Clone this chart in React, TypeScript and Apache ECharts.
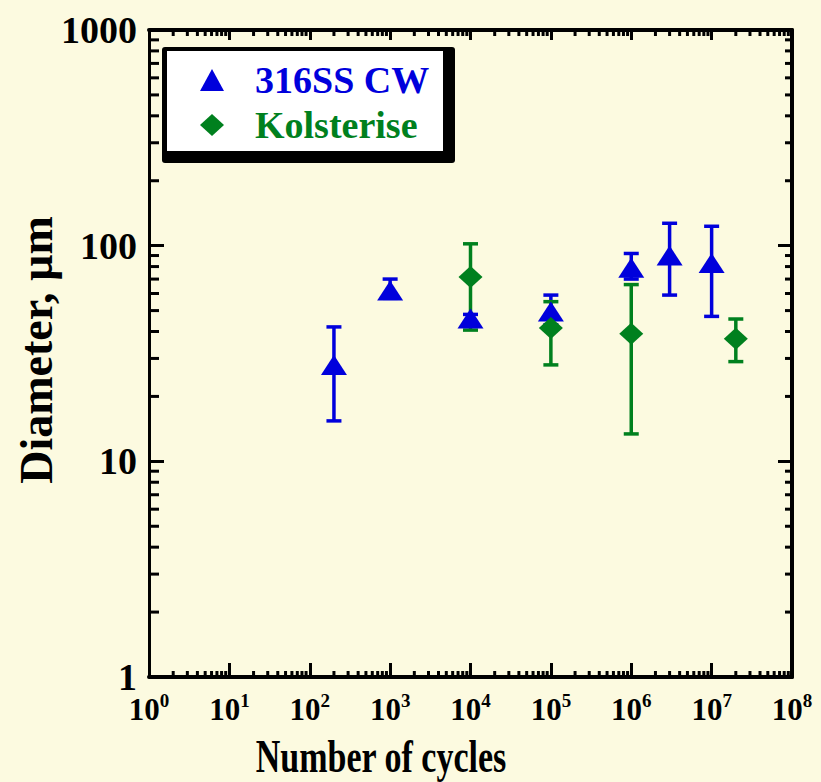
import React, { useEffect, useRef } from "react";
import * as echarts from "echarts";

// ---- data ----
const blueName = "316SS CW";
const blueX = [200, 1000, 10000, 100000, 1000000, 3000000, 10000000];
const blueY = [28, 62, 46, 49.5, 79, 90, 83];
const blueLow = [15.4, 57, 43, 43, 70, 59, 47];
const blueHigh = [42, 70, 48, 59, 92, 127, 123];

const greenName = "Kolsterise";
const greenX = [10000, 100000, 1000000, 20000000];
const greenY = [71.5, 41.5, 39, 37];
const greenLow = [40.6, 28, 13.4, 29];
const greenHigh = [102, 55, 66, 45.7];

// axis ranges and tick decades
const xDecades = [0, 1, 2, 3, 4, 5, 6, 7];
const yDecades = [0, 1, 2];
const minorMultipliers = [2, 3, 4, 5, 6, 7, 8, 9];

const BLUE = "#0000DC";
const GREEN = "#00801E";
const BG = "#FCFAE0";
const FONT = "'Liberation Serif', 'Times New Roman', serif";

const xMinor: number[] = [];
xDecades.forEach((d) => minorMultipliers.forEach((m) => xMinor.push(m * Math.pow(10, d))));
const yMinor: number[] = [];
yDecades.forEach((d) => minorMultipliers.forEach((m) => yMinor.push(m * Math.pow(10, d))));

const X_MIN = 1, X_MAX = 1e8, Y_MIN = 1, Y_MAX = 1000;

function errRender(color: string) {
  return (params: any, api: any) => {
    const x = api.value(0);
    const lo = api.value(1);
    const hi = api.value(2);
    const pLo = api.coord([x, lo]);
    const pHi = api.coord([x, hi]);
    const w = 7.5;
    const style = { stroke: color, lineWidth: 3.5, fill: "none" };
    return {
      type: "group",
      children: [
        { type: "line", shape: { x1: pLo[0], y1: pLo[1], x2: pHi[0], y2: pHi[1] }, style },
        { type: "line", shape: { x1: pLo[0] - w, y1: pLo[1], x2: pLo[0] + w, y2: pLo[1] }, style },
        { type: "line", shape: { x1: pHi[0] - w, y1: pHi[1], x2: pHi[0] + w, y2: pHi[1] }, style },
      ],
    };
  };
}

const tickStyle = { stroke: "#000", lineWidth: 3 };

function xMinorRender(params: any, api: any) {
  const v = api.value(0);
  const b = api.coord([v, Y_MIN]);
  const t = api.coord([v, Y_MAX]);
  return {
    type: "group",
    children: [
      { type: "line", shape: { x1: b[0], y1: b[1], x2: b[0], y2: b[1] - 6 }, style: tickStyle },
      { type: "line", shape: { x1: t[0], y1: t[1], x2: t[0], y2: t[1] + 6 }, style: tickStyle },
    ],
  };
}

function yMinorRender(params: any, api: any) {
  const v = api.value(1);
  const l = api.coord([X_MIN, v]);
  const r = api.coord([X_MAX, v]);
  return {
    type: "group",
    children: [
      { type: "line", shape: { x1: l[0], y1: l[1], x2: l[0] + 10, y2: l[1] }, style: tickStyle },
      { type: "line", shape: { x1: r[0], y1: r[1], x2: r[0] - 7, y2: r[1] }, style: tickStyle },
    ],
  };
}

export default function App() {
  const ref = useRef<HTMLDivElement>(null);
  useEffect(() => {
    if (!ref.current) return;
    const chart = echarts.init(ref.current, undefined, { renderer: "svg" });
    const axisLineStyle = { color: "#000", width: 4 };
    const option: any = {
      animation: false,
      backgroundColor: BG,
      grid: { left: 149, top: 30, right: 29, bottom: 105, containLabel: false },
      xAxis: [
        {
          type: "log",
          logBase: 10,
          min: X_MIN,
          max: X_MAX,
          splitNumber: 8,
          position: "bottom",
          axisLine: { lineStyle: axisLineStyle },
          axisTick: { inside: true, length: 14, lineStyle: { color: "#000", width: 3 } },
          splitLine: { show: false },
          axisLabel: {
            interval: 0,
            margin: 14,
            showMinLabel: true,
            showMaxLabel: true,
            formatter: (v: number) => `{b|10}{e|${Math.round(Math.log10(v))}}`,
            rich: {
              b: { fontFamily: FONT, fontWeight: "bold", fontSize: 31, color: "#000" },
              e: { fontFamily: FONT, fontWeight: "bold", fontSize: 19, color: "#000", padding: [0, 0, 18, 0] },
            },
          },
        },
        {
          type: "log",
          logBase: 10,
          min: X_MIN,
          max: X_MAX,
          splitNumber: 8,
          position: "top",
          axisLine: { lineStyle: axisLineStyle },
          axisTick: { inside: true, length: 10, lineStyle: { color: "#000", width: 3 } },
          axisLabel: { show: false },
          splitLine: { show: false },
        },
      ],
      yAxis: [
        {
          type: "log",
          logBase: 10,
          min: Y_MIN,
          max: Y_MAX,
          splitNumber: 3,
          position: "left",
          axisLine: { lineStyle: { color: "#000", width: 3 } },
          axisTick: { inside: true, length: 15, lineStyle: { color: "#000", width: 3 } },
          splitLine: { show: false },
          axisLabel: {
            margin: 12,
            showMinLabel: true,
            showMaxLabel: true,
            formatter: (v: number) => String(Math.round(v)),
            fontFamily: FONT,
            fontWeight: "bold",
            fontSize: 38,
            color: "#000",
          },
        },
        {
          type: "log",
          logBase: 10,
          min: Y_MIN,
          max: Y_MAX,
          splitNumber: 3,
          position: "right",
          axisLine: { lineStyle: axisLineStyle },
          axisTick: { inside: true, length: 14, lineStyle: { color: "#000", width: 3 } },
          axisLabel: { show: false },
          splitLine: { show: false },
        },
      ],
      legend: {
        orient: "vertical",
        left: 200,
        top: 61,
        padding: 0,
        itemWidth: 24,
        itemHeight: 22,
        itemGap: 7,
        selectedMode: false,
        textStyle: {
          fontFamily: FONT,
          fontWeight: "bold",
          fontSize: 38,
          lineHeight: 38,
          padding: [0, 0, 0, 26],
        },
        data: [
          { name: blueName, icon: "triangle", itemStyle: { color: BLUE }, textStyle: { color: BLUE } },
          { name: greenName, icon: "diamond", itemStyle: { color: GREEN }, textStyle: { color: GREEN } },
        ],
      },
      graphic: [
        { type: "rect", z: 1, shape: { x: 162, y: 47, width: 293, height: 116, r: 3 }, style: { fill: "#000" } },
        { type: "rect", z: 1, shape: { x: 167, y: 51, width: 276, height: 100 }, style: { fill: "#FFFFFF" } },
        {
          type: "text",
          z: 5,
          x: 381,
          y: 757,
          scaleY: 1.35,
          style: {
            text: "Number of cycles",
            fontFamily: FONT,
            fontWeight: "bold",
            fontSize: 34,
            fill: "#000",
            align: "center",
            verticalAlign: "middle",
          },
        },
        {
          type: "text",
          z: 5,
          x: 36,
          y: 350,
          rotation: Math.PI / 2,
          style: {
            text: "Diameter, µm",
            fontFamily: FONT,
            fontWeight: "bold",
            fontSize: 46,
            fill: "#000",
            align: "center",
            verticalAlign: "middle",
          },
        },
      ],
      series: [
        {
          name: "xminor",
          type: "custom",
          silent: true,
          xAxisIndex: 0,
          yAxisIndex: 0,
          renderItem: xMinorRender,
          data: xMinor.map((v) => [v, Y_MIN]),
          encode: { x: 0, y: 1 },
        },
        {
          name: "yminor",
          type: "custom",
          silent: true,
          xAxisIndex: 0,
          yAxisIndex: 0,
          renderItem: yMinorRender,
          data: yMinor.map((v) => [X_MIN, v]),
          encode: { x: 0, y: 1 },
        },
        {
          name: "blueErr",
          type: "custom",
          silent: true,
          renderItem: errRender(BLUE),
          data: blueX.map((x, i) => [x, blueLow[i], blueHigh[i]]),
          encode: { x: 0, y: [1, 2] },
          z: 3,
        },
        {
          name: "greenErr",
          type: "custom",
          silent: true,
          renderItem: errRender(GREEN),
          data: greenX.map((x, i) => [x, greenLow[i], greenHigh[i]]),
          encode: { x: 0, y: [1, 2] },
          z: 4,
        },
        {
          name: blueName,
          type: "scatter",
          symbol: "triangle",
          symbolSize: [26, 20],
          itemStyle: { color: BLUE, opacity: 1 },
          data: blueX.map((x, i) => [x, blueY[i]]),
          z: 5,
        },
        {
          name: greenName,
          type: "scatter",
          symbol: "diamond",
          symbolSize: [24, 22],
          itemStyle: { color: GREEN, opacity: 1 },
          data: greenX.map((x, i) => [x, greenY[i]]),
          z: 6,
        },
      ],
    };
    chart.setOption(option);
    return () => chart.dispose();
  }, []);
  return (
    <div
      ref={ref}
      style={{ position: "fixed", left: 0, top: 0, width: 821, height: 782, background: BG }}
    />
  );
}
